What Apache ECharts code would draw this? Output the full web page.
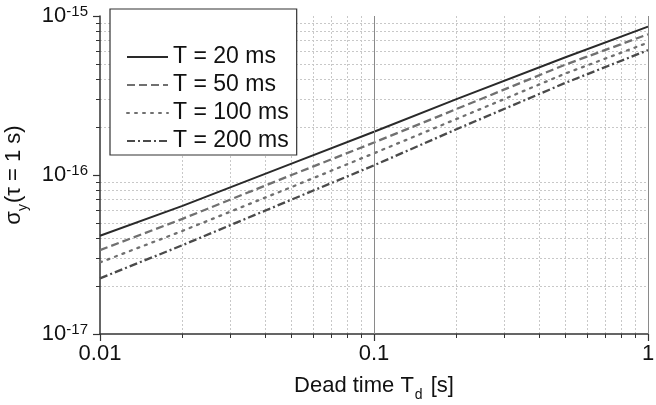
<!DOCTYPE html>
<html>
<head>
<meta charset="utf-8">
<script src="https://cdn.jsdelivr.net/npm/echarts@6/dist/echarts.min.js"></script>
<style>
  html, body { margin: 0; padding: 0; background: #fff; }
  #chart { width: 656px; height: 405px; }
</style>
</head>
<body>
<div id="chart"></div>
<script>
// dead time values (x) and sigma values per cycle time T
var deadTime = [0.01, 0.02, 0.05, 0.1, 0.2, 0.5, 1];
var sigT20  = [4.15e-17, 6.4e-17, 1.18e-16, 1.87e-16, 3.0e-16, 5.5e-16, 8.57e-16];
var sigT50  = [3.37e-17, 5.3e-17, 1.0e-16, 1.6e-16, 2.6e-16, 4.95e-16, 7.67e-16];
var sigT100 = [2.82e-17, 4.45e-17, 8.4e-17, 1.37e-16, 2.25e-16, 4.35e-16, 6.8e-16];
var sigT200 = [2.24e-17, 3.62e-17, 7.0e-17, 1.15e-16, 1.94e-16, 3.8e-16, 6.1e-16];
var seriesNames = ['T = 20 ms', 'T = 50 ms', 'T = 100 ms', 'T = 200 ms'];

// ticks
var xMajor = [0.01, 0.1, 1];
var xMajorLabels = ['0.01', '0.1', '1'];
var xMinor = [0.02, 0.03, 0.04, 0.05, 0.06, 0.07, 0.08, 0.09, 0.2, 0.3, 0.4, 0.5, 0.6, 0.7, 0.8, 0.9];
var yMajor = [1e-17, 1e-16, 1e-15];
var yMajorExp = ['-17', '-16', '-15'];
var yMinor = [2e-17, 3e-17, 4e-17, 5e-17, 6e-17, 7e-17, 8e-17, 9e-17,
              2e-16, 3e-16, 4e-16, 5e-16, 6e-16, 7e-16, 8e-16, 9e-16];
// solid grid lines
var xGridMajor = [0.1, 1];
var yGridMajor = [1e-16];

var FONT = 'Liberation Sans, Arial, sans-serif';

function pairs(ys) {
    return deadTime.map(function (x, i) { return [x, ys[i]]; });
}

function idxOf(arr, v) {
    for (var i = 0; i < arr.length; i++) {
        if (Math.abs(arr[i] - v) / arr[i] < 1e-6) return i;
    }
    return -1;
}

var chartDom = document.getElementById('chart');
var myChart = echarts.init(chartDom, null, { renderer: 'canvas' });

var gridMarks = [];
xGridMajor.forEach(function (v) { gridMarks.push({ xAxis: v }); });
yGridMajor.forEach(function (v) { gridMarks.push({ yAxis: v }); });

var option = {
    animation: false,
    backgroundColor: '#fff',
    textStyle: { fontFamily: FONT },
    grid: { left: 100, right: 8, top: 16, bottom: 71, containLabel: false, outerBoundsMode: 'none' },
    legend: {
        orient: 'vertical',
        left: 110,
        top: 9,
        padding: [36, 8, 2, 16],
        itemGap: 4,
        itemWidth: 41,
        itemHeight: 14,
        backgroundColor: '#fff',
        borderColor: '#333',
        borderWidth: 1.2,
        itemStyle: { opacity: 0 },
        data: seriesNames,
        textStyle: { fontSize: 23, color: '#111', fontFamily: FONT, lineHeight: 24 }
    },
    xAxis: [
        {
            type: 'log', logBase: 10, min: 0.01, max: 1, position: 'bottom',
            name: '{n|Dead time T}{sub|d}{n| [s]}',
            nameLocation: 'middle', nameGap: 40,
            nameTextStyle: {
                rich: {
                    n: { fontSize: 22, color: '#111', fontFamily: FONT, lineHeight: 24 },
                    sub: { fontSize: 14, color: '#111', fontFamily: FONT, verticalAlign: 'bottom', lineHeight: 14, padding: [0, 2, -4, 1] }
                }
            },
            axisLine: { show: true, lineStyle: { color: '#333', width: 1.5 } },
            axisTick: { show: true, length: 7, customValues: xMajor, lineStyle: { color: '#333', width: 1.2 } },
            axisLabel: {
                customValues: xMajor, margin: 9, fontSize: 22, color: '#111', fontFamily: FONT,
                formatter: function (v) {
                    var i = idxOf(xMajor, v);
                    return i >= 0 ? xMajorLabels[i] : '';
                }
            },
            splitLine: { show: false }
        },
        {
            type: 'log', logBase: 10, min: 0.01, max: 1, position: 'bottom',
            axisLine: { show: false },
            axisTick: { show: true, length: 4, customValues: xMinor, lineStyle: { color: '#333', width: 1 } },
            axisLabel: { show: false },
            splitLine: { show: true, lineStyle: { color: '#c8c8c8', width: 1, type: [2, 2] } }
        }
    ],
    yAxis: [
        {
            type: 'log', logBase: 10, min: 1e-17, max: 1e-15, position: 'left',
            name: '{n|σ}{sub|y}{n|(τ = 1 s)}',
            nameLocation: 'middle', nameRotate: 90, nameGap: 74,
            nameTextStyle: {
                rich: {
                    n: { fontSize: 22, color: '#111', fontFamily: FONT, lineHeight: 24 },
                    sub: { fontSize: 14, color: '#111', fontFamily: FONT, verticalAlign: 'bottom', lineHeight: 14, padding: [0, 1, -4, 0] }
                }
            },
            axisLine: { show: true, lineStyle: { color: '#333', width: 1.5 } },
            axisTick: { show: true, length: 7, customValues: yMajor, lineStyle: { color: '#333', width: 1.2 } },
            axisLabel: {
                customValues: yMajor, margin: 12,
                formatter: function (v) {
                    var i = idxOf(yMajor, v);
                    return i >= 0 ? '{b|10}{s|' + yMajorExp[i] + '}' : '';
                },
                rich: {
                    b: { fontSize: 22, color: '#111', fontFamily: FONT, lineHeight: 24 },
                    s: { fontSize: 15, color: '#111', fontFamily: FONT, verticalAlign: 'top', lineHeight: 15, padding: [0, 0, 6, 0] }
                }
            },
            splitLine: { show: false }
        },
        {
            type: 'log', logBase: 10, min: 1e-17, max: 1e-15, position: 'left',
            axisLine: { show: false },
            axisTick: { show: true, length: 4, customValues: yMinor, lineStyle: { color: '#333', width: 1 } },
            axisLabel: { show: false },
            splitLine: { show: true, lineStyle: { color: '#c8c8c8', width: 1, type: [2, 2] } }
        }
    ],
    series: [
        {
            // solid grid lines at the decades
            name: 'grid', type: 'line', data: [], z: 1,
            markLine: {
                silent: true, symbol: 'none', animation: false,
                label: { show: false },
                lineStyle: { color: '#8a8a8a', width: 1, type: 'solid' },
                data: gridMarks
            }
        },
        {
            name: seriesNames[0], type: 'line', data: pairs(sigT20), z: 3,
            symbol: 'none', showSymbol: false,
            lineStyle: { color: '#2a2a2a', width: 2, type: 'solid' }, itemStyle: { color: '#2a2a2a' }
        },
        {
            name: seriesNames[1], type: 'line', data: pairs(sigT50), z: 3,
            symbol: 'none', showSymbol: false,
            lineStyle: { color: '#707070', width: 2.3, type: [8, 4] }, itemStyle: { color: '#707070' }
        },
        {
            name: seriesNames[2], type: 'line', data: pairs(sigT100), z: 3,
            symbol: 'none', showSymbol: false,
            lineStyle: { color: '#707070', width: 2.3, type: [2, 6], cap: 'round' }, itemStyle: { color: '#707070' }
        },
        {
            name: seriesNames[3], type: 'line', data: pairs(sigT200), z: 3,
            symbol: 'none', showSymbol: false,
            lineStyle: { color: '#4a4a4a', width: 2.3, type: [8, 3, 2, 3] }, itemStyle: { color: '#4a4a4a' }
        }
    ]
};

option && myChart.setOption(option);
new ResizeObserver(() => myChart.resize()).observe(chartDom);
</script>
</body>
</html>
